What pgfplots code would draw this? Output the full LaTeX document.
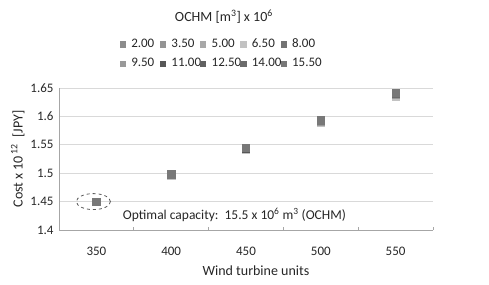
\documentclass[border=0pt]{standalone}
\usepackage{fontspec}
\setmainfont{Carlito}
\usepackage{pgfplots}
\pgfplotsset{compat=1.18}
\newcommand{\lb}[1]{\makebox[27pt][l]{\fontsize{13}{15}\selectfont #1}}
\begin{document}
\begin{tikzpicture}[font=\fontsize{13}{15}\selectfont]
\definecolor{c1}{gray}{0.55}
\definecolor{c2}{gray}{0.58}
\definecolor{c3}{gray}{0.66}
\definecolor{c4}{gray}{0.76}
\definecolor{c5}{gray}{0.45}
\definecolor{c6}{gray}{0.60}
\definecolor{c7}{gray}{0.34}
\definecolor{c8}{gray}{0.38}
\definecolor{c9}{gray}{0.42}
\definecolor{c10}{gray}{0.47}
\pgfplotsset{pt/.style={only marks, mark=square*, mark size=3.7pt, draw=#1, fill=#1, mark options={draw=#1, fill=#1}}}
\begin{axis}[
  scale only axis, width=374pt, height=142pt,
  xmin=-0.5, xmax=4.5, ymin=1.4, ymax=1.65,
  xtick={0,1,2,3,4}, xticklabels={350,400,450,500,550},
  minor xtick={0.5,1.5,2.5,3.5,4.5},
  major x tick style={draw=none},
  minor tick length=3pt,
  x tick style={gray!70, line width=0.8pt},
  ytick={1.4,1.45,1.5,1.55,1.6,1.65},
  yticklabels={1.4,1.45,1.5,1.55,1.6,1.65},
  y tick style={draw=none},
  ymajorgrids, grid style={gray!30, line width=0.9pt},
  axis x line*=bottom, axis y line*=left,
  axis line style={gray!70, line width=0.9pt, -},
  xticklabel style={yshift=-14pt},
  yticklabel style={xshift=-2pt},
  tick label style={font=\fontsize{13}{15}\selectfont, text=black!85},
  /pgf/number format/assume math mode=true,
  xlabel={Wind turbine units},
  label style={font=\fontsize{14}{16}\selectfont, text=black!85},
  xlabel style={yshift=-3pt, xshift=10pt},
  ylabel={Cost x 10\textsuperscript{\,12} \ [JPY]},
  ylabel style={yshift=-1pt},
  clip=false,
  legend columns=5,
  legend style={draw=none, fill=none, at={(rel axis cs:0.432,1.2415)}, anchor=center,
    font=\fontsize{13}{15}\selectfont, text=black!85, row sep=5pt,
    /tikz/every odd column/.append style={column sep=4pt},
    /tikz/every even column/.append style={column sep=0pt}},
  legend image code/.code={\draw[#1, mark size=2.6pt] plot coordinates {(0cm,0cm)};},
]
\addplot[pt=c1] coordinates {(0,1.450) (1,1.497) (2,1.544) (3,1.591) (4,1.638)};
\addlegendentry{\lb{2.00}}
\addplot[pt=c2] coordinates {(0,1.450) (1,1.497) (2,1.543) (3,1.590) (4,1.637)};
\addlegendentry{\lb{3.50}}
\addplot[pt=c3] coordinates {(0,1.450) (1,1.497) (2,1.543) (3,1.590) (4,1.636)};
\addlegendentry{\lb{5.00}}
\addplot[pt=c4] coordinates {(0,1.450) (1,1.496) (2,1.542) (3,1.589) (4,1.635)};
\addlegendentry{\lb{6.50}}
\addplot[pt=c5] coordinates {(0,1.450) (1,1.497) (2,1.544) (3,1.591) (4,1.639)};
\addlegendentry{\lb{8.00}}
\addplot[pt=c6] coordinates {(0,1.450) (1,1.497) (2,1.544) (3,1.591) (4,1.638)};
\addlegendentry{\lb{9.50}}
\addplot[pt=c7] coordinates {(0,1.450) (1,1.497) (2,1.544) (3,1.592) (4,1.640)};
\addlegendentry{\lb{11.00}}
\addplot[pt=c8] coordinates {(0,1.450) (1,1.498) (2,1.545) (3,1.592) (4,1.641)};
\addlegendentry{\lb{12.50}}
\addplot[pt=c9] coordinates {(0,1.450) (1,1.498) (2,1.545) (3,1.592) (4,1.641)};
\addlegendentry{\lb{14.00}}
\addplot[pt=c10] coordinates {(0,1.450) (1,1.498) (2,1.545) (3,1.593) (4,1.642)};
\addlegendentry{\lb{15.50}}
\draw[gray!70!black, dashed, line width=0.8pt] (axis cs:-0.04,1.45) ellipse [x radius=17pt, y radius=8pt];
\node[text=black!85, font=\fontsize{13.5}{16}\selectfont] at (axis cs:1.846,1.4264) {Optimal capacity:\ \ 15.5 x 10\textsuperscript{6} m\textsuperscript{3} (OCHM)};
\node[text=black!85, font=\fontsize{14}{16}\selectfont] at (rel axis cs:0.441,1.5) {OCHM [m\textsuperscript{3}] x 10\textsuperscript{6}};
\coordinate (SW) at (rel axis cs:0,0);
\coordinate (NE) at (rel axis cs:1,1);
\end{axis}
\path[use as bounding box] ([xshift=-59pt,yshift=-54pt]SW) rectangle ([xshift=56pt,yshift=88pt]NE);
\end{tikzpicture}
\end{document}
